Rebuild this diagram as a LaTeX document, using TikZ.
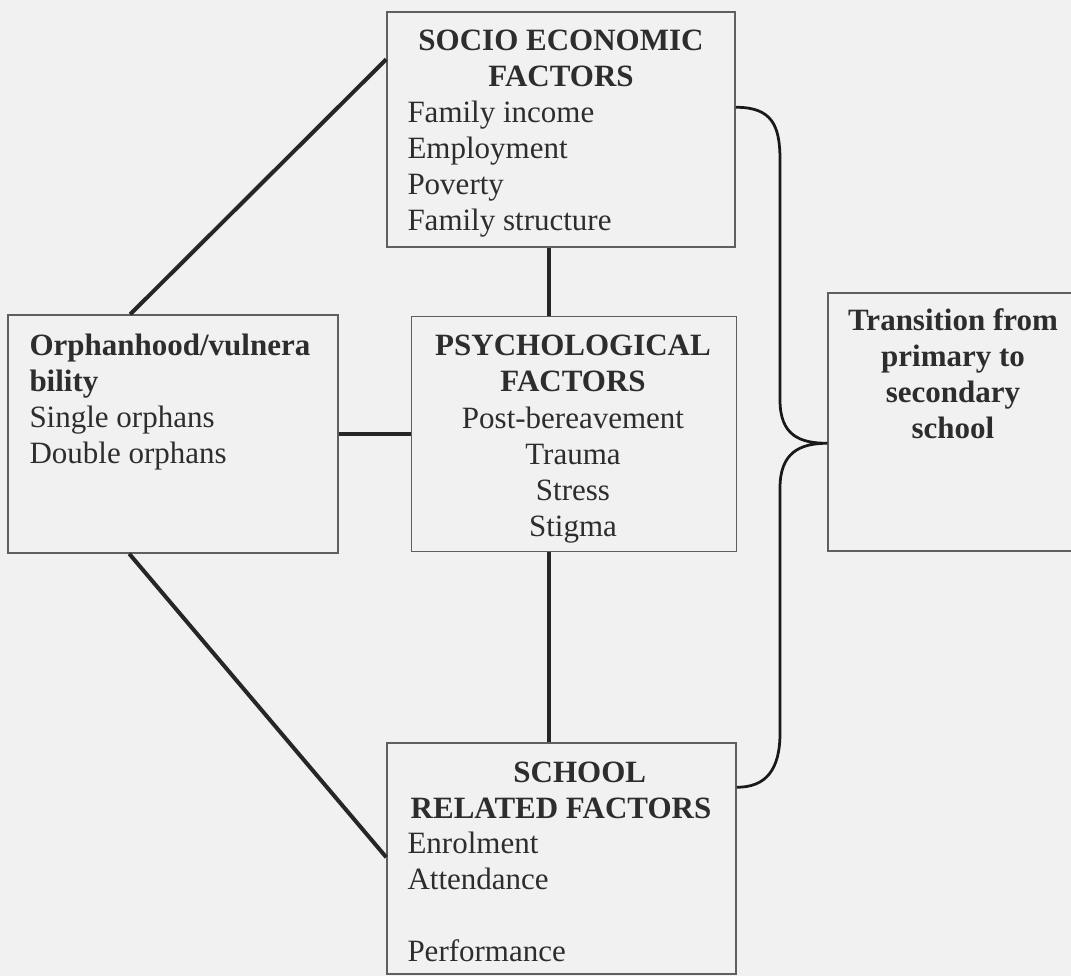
\documentclass[tikz,border=0pt]{standalone}
\usepackage{fontspec}
\setmainfont{Liberation Serif}
\usetikzlibrary{positioning,calc}
\definecolor{paper}{RGB}{241,241,241}
\definecolor{ink}{RGB}{45,45,45}
\definecolor{frame}{RGB}{95,95,95}
\tikzset{
    factor/.style={
           rectangle,
           draw=frame, line width=0.6pt,
           inner sep=0pt
           },
    head/.style={
           inner sep=0pt,
           text=ink,
           font=\fontsize{12.4}{14.4}\selectfont\bfseries
           },
    items/.style={
           inner sep=0pt,
           text=ink,
           font=\fontsize{12.4}{14.4}\selectfont
           },
    link/.style={
           draw=black!85, line width=1.6pt
           },
    brace/.style={
           draw=black!90, line width=1.1pt
           }
}

\begin{document}
\begin{tikzpicture}[x=0.4pt, y=-0.4pt]
   \useasboundingbox (0,0) rectangle (1071,976);
   \fill[paper] (0,0) rectangle (1071,976);
   % boxes
   \node[factor, minimum width=132pt, minimum height=95.2pt] (orphan) at (173,434) {};
   \node[factor, minimum width=130pt, minimum height=94pt] (psych) [right=28.8pt of orphan] {};
   \node[factor, minimum width=139.2pt, minimum height=94pt] (socio) at (561,129.5) {};
   \node[factor, minimum width=139.6pt, minimum height=92.4pt] (school) at (561.5,858.5) {};
   \node[factor, minimum width=100pt, minimum height=103.2pt] (trans) at (953,422) {};
   % texts
   \node[head, anchor=base] (sociohead) at (561,50.7)
        {\parbox[t]{140pt}{\centering SOCIO ECONOMIC\\FACTORS}};
   \node[items, anchor=base west] (socioitems) at (407,122.7)
        {\parbox[t]{130pt}{\raggedright Family income\\Employment\\Poverty\\Family structure}};
   \node[items, anchor=base west] (orphantext) at (29,355)
        {\parbox[t]{128pt}{\raggedright \textbf{Orphanhood/vulnera}\\\textbf{bility}\\Single orphans\\Double orphans}};
   \node[head, anchor=base] (psychhead) at (573,355)
        {\parbox[t]{128pt}{\centering PSYCHOLOGICAL\\FACTORS}};
   \node[items, anchor=base] (psychitems) at (573,428)
        {\parbox[t]{128pt}{\centering Post-bereavement\\Trauma\\Stress\\Stigma}};
   \node[head, anchor=base] (transhead) at (953,330)
        {\parbox[t]{98pt}{\centering Transition from\\primary to\\secondary\\school}};
   \node[head, anchor=base] (schoolhead) at (561,782)
        {\parbox[t]{138pt}{\centering \hspace*{15pt}SCHOOL\\RELATED FACTORS}};
   \node[items, anchor=base west] (schoolitems) at (407,853)
        {\parbox[t]{130pt}{\raggedright Enrolment\\Attendance\\[14.4pt]Performance}};
   % connectors
   \coordinate (sp) at ($(socio.south west)+(163,0)$);
   \path[link]
    ($(orphan.north west)+(123,0)$) edge ($(socio.north west)+(0,48)$)
    ($(orphan.south west)+(122,0)$) edge ($(school.north west)+(0,115)$)
    (orphan) edge (psych)
    (sp) edge (sp |- psych.north)
    (sp |- psych.south) edge (sp |- school.north);
   \coordinate (bracetop) at ($(socio.north east)+(0,96)$);
   \coordinate (bracetip) at ($(trans.north west)+(0,151)$);
   \coordinate (bracebot) at ($(school.north east)+(0,45)$);
   \draw[brace] (bracetop) .. controls +(36,0) and +(0,-35) .. (780,160)
    -- (780,400) .. controls +(0,35) and +(-28,0) .. (bracetip)
    .. controls +(-28,0) and +(0,-35) .. (780,488)
    -- (780,733) .. controls +(0,37) and +(29,0) .. (bracebot);
\end{tikzpicture}
\end{document}
